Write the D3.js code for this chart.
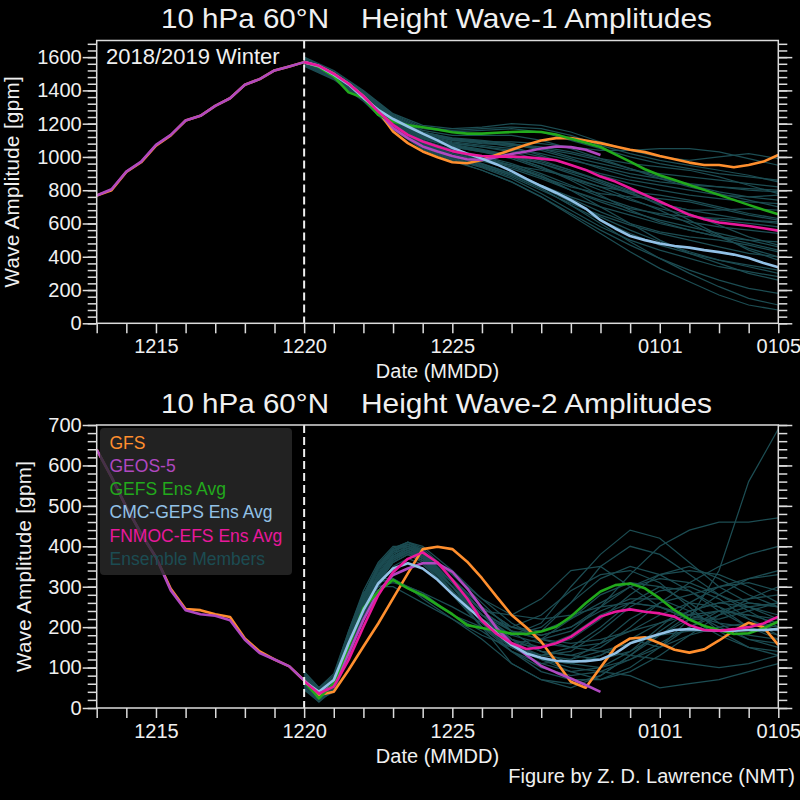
<!DOCTYPE html>
<html><head><meta charset="utf-8">
<script src="https://cdn.jsdelivr.net/npm/d3@7"></script>
<style>
body{margin:0;background:#000;}
svg{display:block;}
text{font-family:"Liberation Sans",Arial,Helvetica,sans-serif;fill:#f0f0f0;}
</style>
</head><body>
<svg id="c" width="800" height="800"></svg>
<script>
// ---- axis labels ----
const dayLabels = ["1215","1220","1225","0101","0105"];
const dayLabelPos = [2,7,12,19,23];          // days since Dec 13
const initDay = 7;                            // Dec 20 (forecast start)
const seriesNames = ["GFS","GEOS-5","GEFS Ens Avg","CMC-GEPS Ens Avg","FNMOC-EFS Ens Avg","Ensemble Members"];
const seriesColors = ["#ff8f2e","#b048c0","#22aa1c","#92c1e6","#e8189c","#1c4c52"];

// ---- times (days since 12/13 00Z) ----
const anaTimes = [0,0.5,1,1.5,2,2.5,3,3.5,4,4.5,5,5.5,6,6.5,7];
const fcTimes = [7,7.5,8,8.5,9,9.5,10,10.5,11,11.5,12,12.5,13,13.5,14,14.5,15,15.5,16,16.5,17,17.5,18,18.5,19,19.5,20,20.5,21,21.5,22,22.5,23];
const ensTimes1 = [7,8,9,10,11,12,13,14,15,16,17,18,19,20,21,22,23];
const ensTimes2 = [7,7.5,8,8.5,9,9.5,10,10.5,11,12,13,14,15,16,17,18,19,20,21,22,23];

// ---- Wave-1 (gpm) ----
const w1AnaGFS  = [768,800,910,968,1068,1130,1219,1247,1307,1353,1434,1468,1520,1544,1570];
const w1AnaGEOS = [768,806,912,972,1073,1133,1219,1247,1307,1353,1434,1468,1520,1544,1570];
const w1GFS   = [1570,1545,1500,1440,1365,1275,1153,1083,1033,998,968,962,982,1013,1043,1073,1099,1113,1113,1099,1083,1063,1043,1029,1006,986,966,952,952,938,952,972,1012];
const w1GEOS  = [1570,1548,1500,1440,1365,1275,1173,1113,1063,1033,1006,986,982,998,1018,1033,1051,1063,1059,1043,1012];
const w1GEFS  = [1570,1540,1484,1388,1355,1253,1213,1190,1178,1165,1148,1140,1140,1145,1150,1153,1150,1135,1110,1085,1060,1015,972,926,890,862,832,802,772,742,712,682,655];
const w1CMC   = [1570,1545,1495,1435,1355,1283,1228,1183,1140,1100,1055,1020,990,955,915,868,825,785,740,690,620,570,525,500,480,465,455,440,428,413,392,362,337];
const w1FNMOC = [1570,1548,1500,1440,1365,1273,1193,1133,1093,1063,1035,1018,1006,1002,1002,998,990,980,952,922,882,852,812,772,732,692,652,626,606,595,585,571,557];
const w1Members = [
 [1590,1510,1390,1250,1170,1150,1160,1170,1150,1100,1050,1000,960,930,900,880,860],
 [1570,1490,1370,1220,1120,1070,1040,1000,940,870,800,740,690,650,620,600,580],
 [1560,1480,1350,1190,1080,1010,960,900,820,730,640,560,490,430,380,340,300],
 [1580,1500,1380,1240,1150,1110,1090,1060,1010,950,890,840,800,770,750,730,720],
 [1550,1470,1340,1170,1050,980,920,850,760,660,560,470,390,320,260,210,180],
 [1600,1520,1400,1260,1190,1170,1180,1200,1190,1150,1090,1040,1000,980,1000,1020,990],
 [1575,1495,1365,1210,1110,1060,1030,990,930,870,820,790,770,740,700,660,630],
 [1565,1485,1355,1200,1090,1030,990,950,890,800,700,600,500,420,360,300,260],
 [1585,1505,1385,1230,1140,1100,1080,1070,1050,1020,980,930,880,830,790,760,740],
 [1555,1475,1345,1180,1060,990,940,880,800,720,650,590,540,500,460,420,400],
 [1570,1490,1365,1215,1120,1080,1060,1040,1000,950,900,860,830,800,770,760,770],
 [1560,1480,1350,1185,1070,1000,950,890,810,710,600,490,390,300,220,150,110],
 [1590,1510,1390,1245,1160,1130,1130,1130,1100,1050,990,930,870,820,780,740,700],
 [1575,1495,1370,1220,1125,1075,1045,1010,960,900,840,780,720,680,650,620,600],
 [1550,1470,1340,1175,1055,985,935,870,780,680,580,500,440,390,340,310,280],
 [1580,1500,1375,1230,1135,1090,1070,1050,1020,980,940,900,870,840,820,800,790],
 [1565,1485,1360,1205,1100,1045,1005,960,900,830,760,700,650,610,580,560,540],
 [1595,1515,1395,1255,1180,1160,1170,1180,1170,1130,1070,1020,980,950,920,890,850],
 [1560,1480,1350,1190,1080,1010,960,900,830,750,670,600,550,520,500,470,430],
 [1570,1490,1360,1210,1110,1060,1030,1000,960,910,860,800,730,660,590,520,470],
 [1555,1475,1345,1180,1065,995,945,890,810,710,620,540,470,420,380,350,320],
 [1585,1505,1380,1235,1145,1105,1085,1075,1060,1030,990,960,940,920,880,830,780],
 [1575,1495,1370,1215,1115,1065,1035,1000,940,860,770,680,610,560,520,500,490],
 [1560,1480,1350,1195,1085,1020,975,930,870,800,740,690,660,640,630,620,610],
 [1590,1510,1390,1240,1150,1115,1100,1080,1040,990,930,880,850,830,820,810,800],
 [1545,1465,1335,1165,1045,975,920,850,760,650,540,430,330,250,170,110,80],
 [1580,1500,1375,1225,1130,1085,1060,1030,980,920,850,780,720,680,680,690,680],
 [1570,1490,1360,1200,1100,1040,1000,950,880,800,730,670,620,580,540,500,460],
 [1565,1485,1355,1195,1090,1030,985,940,880,820,780,760,750,730,690,650,620],
 [1555,1475,1345,1185,1075,1005,955,900,830,760,700,650,600,560,520,480,440],
 [1585,1505,1380,1230,1140,1100,1090,1090,1080,1060,1040,1040,1050,1050,1030,990,950],
 [1575,1495,1365,1215,1120,1070,1040,1010,970,920,860,790,710,620,530,440,380],
 [1560,1480,1350,1190,1080,1020,980,950,920,880,820,750,680,600,520,450,400],
 [1590,1510,1385,1240,1150,1110,1095,1080,1050,1000,960,920,900,880,860,840,820]
];

// ---- Wave-2 (gpm) ----
const w2AnaGFS  = [639,571,497,431,373,295,245,242,232,225,172,140,120,103,68];
const w2AnaGEOS = [639,571,497,431,373,291,242,232,228,217,169,136,120,103,68];
const w2GFS   = [68,32,40,94,152,209,271,333,393,399,393,362,321,275,230,199,164,115,65,50,100,150,172,175,160,144,137,145,167,191,211,200,156];
const w2GEOS  = [68,35,57,135,218,288,329,345,358,358,337,296,247,197,160,131,104,88,73,57,40];
const w2GEFS  = [66,24,61,152,247,288,317,296,279,255,232,205,198,191,184,183,189,201,226,259,288,304,308,296,271,242,219,203,193,183,185,197,214];
const w2CMC   = [66,40,69,160,242,308,345,358,345,317,282,250,218,185,156,135,124,117,115,116,120,135,160,172,183,193,195,193,191,191,193,193,195];
const w2FNMOC = [66,36,53,119,201,279,336,369,385,360,317,271,216,183,160,146,150,160,176,201,226,238,244,238,234,226,205,193,191,195,200,209,226];
const w2Members = [
 [60,30,50,140,240,320,370,390,370,300,230,190,170,160,170,190,210,230,240,230,220],
 [80,45,70,170,270,350,395,410,390,320,250,200,180,200,250,300,320,310,280,250,230],
 [50,15,45,150,260,300,310,300,285,230,190,140,100,80,90,120,160,200,230,250,260],
 [70,35,60,150,250,330,380,400,380,300,210,150,130,150,200,260,300,290,250,200,170],
 [90,50,80,190,290,360,400,400,370,290,220,180,200,260,320,350,330,290,240,200,180],
 [55,25,45,130,230,310,360,380,360,280,200,150,120,110,130,170,210,240,260,270,280],
 [65,30,55,145,245,325,375,395,385,330,260,190,140,110,100,120,150,180,200,210,200],
 [75,40,65,160,260,340,390,410,400,340,270,210,170,150,160,190,230,260,250,220,190],
 [45,20,50,160,270,310,320,300,270,220,170,110,70,60,80,130,180,220,240,230,210],
 [85,45,75,180,280,350,390,400,380,310,240,230,270,340,350,300,250,220,220,240,260],
 [60,30,50,140,235,315,365,385,370,300,220,170,150,170,220,280,330,350,320,280,250],
 [70,35,60,155,255,335,385,405,390,320,240,170,120,90,70,90,130,180,230,270,300],
 [50,20,55,165,275,315,315,295,275,230,200,160,150,180,230,260,250,220,180,150,130],
 [80,40,70,170,265,345,390,405,385,310,230,170,140,130,150,200,260,310,350,380,400],
 [65,30,55,150,250,330,375,395,380,300,210,140,90,70,70,100,150,200,240,260,250],
 [55,25,50,135,235,315,365,385,375,310,240,190,180,200,240,270,270,240,200,170,160],
 [75,40,65,160,255,330,375,390,370,290,200,110,70,50,80,130,190,240,260,250,220],
 [60,30,55,145,245,325,370,385,365,280,200,160,170,220,280,310,300,260,210,170,150],
 [85,45,80,185,280,355,395,410,395,330,270,230,220,230,250,260,250,230,210,200,210],
 [45,15,50,165,265,300,300,280,260,220,180,150,130,120,140,160,180,190,190,180,170],
 [70,35,60,150,250,330,380,400,385,310,220,160,130,140,190,250,290,300,270,220,180],
 [90,50,85,190,285,320,320,300,285,250,210,180,160,150,140,130,120,110,100,110,130],
 [55,25,45,130,230,310,360,380,365,300,230,200,230,290,330,340,310,250,190,150,140],
 [65,30,55,145,245,325,370,390,375,310,240,190,170,190,250,330,400,440,460,460,470],
 [75,40,70,165,265,345,390,405,390,320,250,200,190,220,260,300,330,340,330,300,260],
 [60,25,50,140,240,320,370,390,375,300,210,150,120,100,90,80,50,60,70,90,110],
 [80,40,70,170,270,345,385,395,375,300,220,160,120,110,130,170,150,220,340,560,690],
 [50,20,40,125,225,300,350,370,355,290,220,180,210,300,380,440,420,360,300,260,250],
 [70,35,60,155,250,330,375,395,380,310,230,170,140,130,120,140,180,230,280,320,340],
 [85,45,75,180,275,350,390,405,385,310,220,150,110,90,100,140,200,260,300,310,290],
 [60,30,50,140,240,320,365,385,370,300,230,180,190,260,350,400,380,330,280,240,200],
 [55,25,45,135,230,310,360,380,365,290,200,140,110,120,160,220,260,280,300,320,330]
];

// ---------------- drawing ----------------
const svg = d3.select("#c");
svg.append("rect").attr("width",800).attr("height",800).attr("fill","#000");
const AX = "#dcdcdc";
const x = d3.scaleLinear().domain([0,23]).range([96.7,778.3]);

function drawPanel(cfg){
  const y = d3.scaleLinear().domain([0,cfg.ymax]).range([cfg.bottom,cfg.top]);
  const [x0,x1] = x.range();
  svg.append("clipPath").attr("id",cfg.id).append("rect")
    .attr("x",x0).attr("y",cfg.top).attr("width",x1-x0).attr("height",cfg.bottom-cfg.top);
  const plot = svg.append("g").attr("clip-path",`url(#${cfg.id})`);
  const line = d3.line().x(d=>x(d[0])).y(d=>y(d[1]));
  const zip = (ts,vs)=>vs.map((v,i)=>[ts[i],v]);

  cfg.members.forEach(m=>{
    plot.append("path").attr("d",line(zip(cfg.ensTimes,m)))
      .attr("fill","none").attr("stroke",seriesColors[5]).attr("stroke-width",1.25);
  });
  const main = [
    zip(anaTimes,cfg.anaGFS).concat(zip(fcTimes,cfg.gfs).slice(1)),
    zip(anaTimes,cfg.anaGEOS).concat(zip(fcTimes,cfg.geos).slice(1)),
    zip(fcTimes,cfg.gefs),
    zip(fcTimes,cfg.cmc),
    zip(fcTimes,cfg.fnmoc)
  ];
  main.forEach((pts,i)=>{
    plot.append("path").attr("d",line(pts)).attr("fill","none")
      .attr("stroke",seriesColors[i]).attr("stroke-width",2.6)
      .attr("stroke-linejoin","round");
  });

  // forecast initialisation line
  svg.append("line").attr("x1",x(initDay)).attr("x2",x(initDay))
    .attr("y1",cfg.top).attr("y2",cfg.bottom)
    .attr("stroke","#f0f0f0").attr("stroke-width",2).attr("stroke-dasharray","8,4");

  // frame
  svg.append("rect").attr("x",x0).attr("y",cfg.top).attr("width",x1-x0).attr("height",cfg.bottom-cfg.top)
    .attr("fill","none").attr("stroke",AX).attr("stroke-width",1.5);

  const style = g=>{
    g.select(".domain").remove();
    g.selectAll("line").attr("stroke",AX).attr("stroke-width",1.5);
    g.selectAll("text").attr("fill","#f0f0f0").attr("font-size",20)
      .attr("font-family","'Liberation Sans',Arial,Helvetica,sans-serif");
  };
  // x axis
  svg.append("g").attr("transform",`translate(0,${cfg.bottom})`)
    .call(d3.axisBottom(x).tickValues(d3.range(0,24)).tickSize(10).tickPadding(6).tickSizeOuter(0)
      .tickFormat(d=>{const k=dayLabelPos.indexOf(d);return k>=0?dayLabels[k]:"";}))
    .call(style);
  // y axes
  svg.append("g").attr("transform",`translate(${x0},0)`)
    .call(d3.axisLeft(y).tickValues(d3.range(0,cfg.ymax+1,cfg.minor)).tickSize(9).tickSizeOuter(0).tickFormat(""))
    .call(style);
  svg.append("g").attr("transform",`translate(${x0},0)`)
    .call(d3.axisLeft(y).tickValues(d3.range(0,cfg.ymax+1,cfg.major)).tickSize(14).tickPadding(1).tickSizeOuter(0)
      .tickFormat(d3.format("d")))
    .call(style);
  svg.append("g").attr("transform",`translate(${x1},0)`)
    .call(d3.axisRight(y).tickValues(d3.range(0,cfg.ymax+1,cfg.minor)).tickSize(9).tickSizeOuter(0).tickFormat(""))
    .call(style);
  svg.append("g").attr("transform",`translate(${x1},0)`)
    .call(d3.axisRight(y).tickValues(d3.range(0,cfg.ymax+1,cfg.major)).tickSize(14).tickSizeOuter(0).tickFormat(""))
    .call(style);

  // titles and labels
  svg.append("text").attr("x",161).attr("y",cfg.titleY).attr("font-size",28)
    .attr("textLength",168).attr("lengthAdjust","spacingAndGlyphs").text("10 hPa 60°N");
  svg.append("text").attr("x",361).attr("y",cfg.titleY).attr("font-size",28)
    .attr("textLength",351).attr("lengthAdjust","spacingAndGlyphs").text(cfg.title);
  svg.append("text").attr("text-anchor","middle").attr("font-size",20)
    .attr("x",(x0+x1)/2).attr("y",cfg.bottom+55).text("Date (MMDD)");
  svg.append("text").attr("text-anchor","middle").attr("font-size",20.5)
    .attr("transform",`translate(${cfg.ylabX},${(cfg.top+cfg.bottom)/2}) rotate(-90)`)
    .attr("textLength",211).text("Wave Amplitude [gpm]");
  return y;
}

drawPanel({id:"p1",top:40.5,bottom:323.3,ymax:1700,major:200,minor:40,
  anaGFS:w1AnaGFS,anaGEOS:w1AnaGEOS,gfs:w1GFS,geos:w1GEOS,gefs:w1GEFS,cmc:w1CMC,fnmoc:w1FNMOC,
  members:w1Members,ensTimes:ensTimes1,title:"Height Wave-1 Amplitudes",titleY:27.5,ylabX:19});
drawPanel({id:"p2",top:425,bottom:708,ymax:700,major:100,minor:20,
  anaGFS:w2AnaGFS,anaGEOS:w2AnaGEOS,gfs:w2GFS,geos:w2GEOS,gefs:w2GEFS,cmc:w2CMC,fnmoc:w2FNMOC,
  members:w2Members,ensTimes:ensTimes2,title:"Height Wave-2 Amplitudes",titleY:412.5,ylabX:31});

svg.append("text").attr("x",106).attr("y",63.5).attr("font-size",22).text("2018/2019 Winter");

// legend
const lg = svg.append("g");
lg.append("rect").attr("x",100).attr("y",428).attr("width",192).attr("height",147).attr("rx",4)
  .attr("fill","#2a2a2a").attr("fill-opacity",0.8);
seriesNames.forEach((n,i)=>{
  lg.append("text").attr("x",109.5).attr("y",448.5+i*23.3).attr("font-size",17.5)
    .style("fill",seriesColors[i]).text(n);
});

svg.append("text").attr("x",795).attr("y",783).attr("text-anchor","end").attr("font-size",20)
  .text("Figure by Z. D. Lawrence (NMT)");
</script>
</body></html>
